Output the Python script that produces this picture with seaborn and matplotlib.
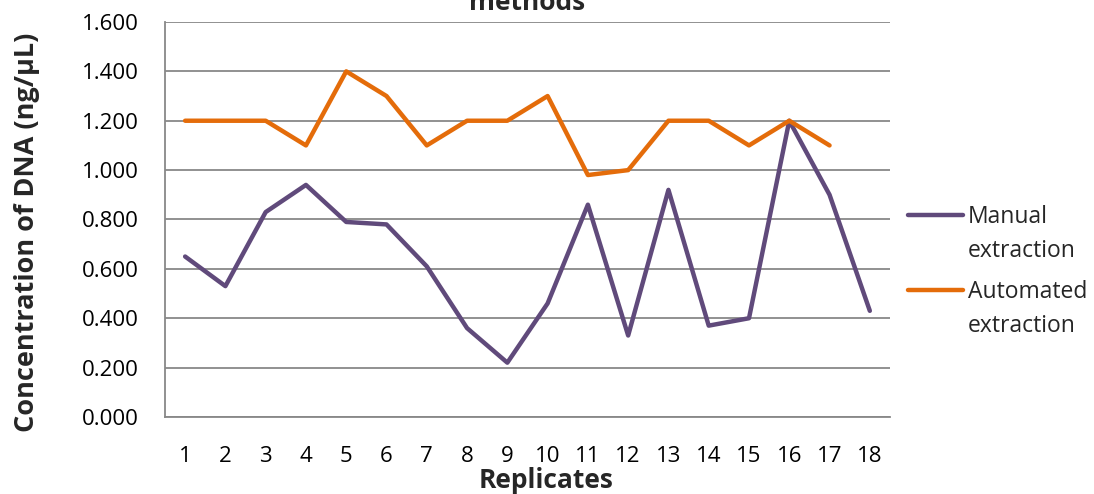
import matplotlib
matplotlib.use("Agg")
import matplotlib.pyplot as plt
import seaborn as sns
import pandas as pd
import numpy as np
from matplotlib.ticker import FormatStrFormatter, MultipleLocator
from matplotlib.legend_handler import HandlerLine2D

replicates = list(range(1, 19))
manual = [0.65, 0.53, 0.83, 0.94, 0.79, 0.78, 0.61, 0.36, 0.22, 0.46,
          0.86, 0.33, 0.92, 0.37, 0.40, 1.20, 0.90, 0.43]
automated = [1.20, 1.20, 1.20, 1.10, 1.40, 1.30, 1.10, 1.20, 1.20, 1.30,
             0.98, 1.00, 1.20, 1.20, 1.10, 1.20, 1.10]
series_names = ["Manual\nextraction", "Automated\nextraction"]
colors = ["#604A7B", "#E46C0A"]

sns.set_theme(style="white")
plt.rcParams['font.family'] = ['Open Sans', 'DejaVu Sans']

df = pd.concat([
    pd.DataFrame({"Replicate": replicates, "Value": manual, "Series": series_names[0]}),
    pd.DataFrame({"Replicate": replicates[:len(automated)], "Value": automated, "Series": series_names[1]}),
])

fig = plt.figure(figsize=(10.94, 4.94), dpi=100)
ax = fig.add_axes([0.1508, 0.1559, 0.6627, 0.7996])

sns.lineplot(data=df, x="Replicate", y="Value", hue="Series", palette=colors,
             linewidth=3.2, ax=ax, legend=True)

ax.set_xlim(0.5, 18.5)
ax.set_ylim(0, 1.6)
ax.yaxis.set_major_locator(MultipleLocator(0.2))
ax.yaxis.set_major_formatter(FormatStrFormatter('%.3f'))
ax.set_xticks(replicates)
ax.grid(axis='y', color='#888888', linewidth=1.3)
ax.set_axisbelow(True)
for s in ['top', 'right']:
    ax.spines[s].set_visible(False)
for s in ['left', 'bottom']:
    ax.spines[s].set_color('#888888')
    ax.spines[s].set_linewidth(1.3)
ax.tick_params(axis='both', length=0, labelsize=16, colors='black')
ax.tick_params(axis='x', pad=21)
ax.tick_params(axis='y', pad=19)

ax.set_xlabel("Replicates", fontsize=19, fontweight='bold')
ax.xaxis.set_label_coords(0.5255, -0.127)
ax.set_ylabel("Concentration of DNA (ng/µL)", fontsize=19.5, fontweight='bold')
ax.yaxis.set_label_coords(-0.172, 0.468)


class ShiftedLine(HandlerLine2D):
    def create_artists(self, legend, orig_handle, xdescent, ydescent, width,
                       height, fontsize, trans):
        arts = super().create_artists(legend, orig_handle, xdescent, ydescent,
                                      width, height, fontsize, trans)
        for a in arts:
            a.set_ydata(np.asarray(a.get_ydata(), dtype=float) + 0.86 * fontsize)
        return arts


handles, labels = ax.get_legend_handles_labels()
leg = ax.legend(handles, labels, loc='upper left', bbox_to_anchor=(1.0126, 0.56),
                frameon=False, fontsize=16.5, handlelength=2.4, handletextpad=0.2,
                labelspacing=0.75, borderaxespad=0,
                handler_map={h: ShiftedLine() for h in handles})
for t in leg.get_texts():
    t.set_linespacing(1.55)

fig.text(0.4817, 0.967, "Comparison of DNA concentration by two extraction\nmethods",
         ha='center', va='bottom', fontsize=19, fontweight='bold')

fig.savefig("out.png", dpi=100)
